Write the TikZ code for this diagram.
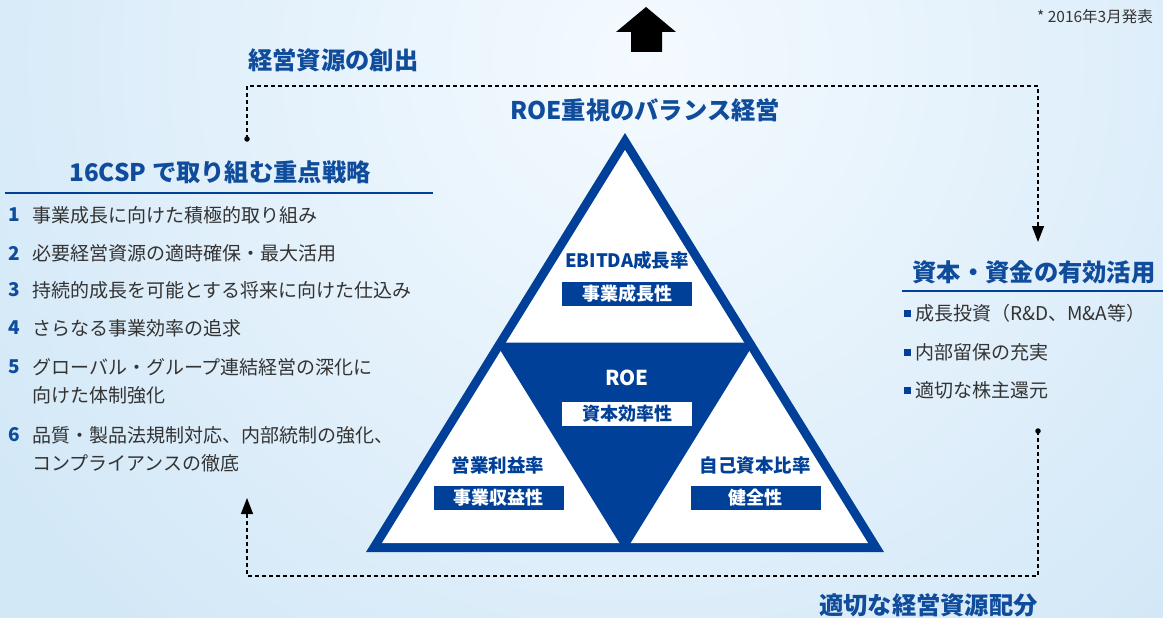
\documentclass[tikz,border=0pt]{standalone}
\usepackage{fontspec}
\setmainfont{Noto Sans CJK JP}
\usetikzlibrary{arrows.meta}
\definecolor{navy}{HTML}{004098}
\definecolor{titleblue}{HTML}{0F4C9C}
\definecolor{txt}{HTML}{333333}
\definecolor{bgA}{HTML}{F4FAFF}
\definecolor{bgB}{HTML}{D3E8F7}
\begin{document}
\begin{tikzpicture}[x=1pt,y=-1pt,
  title/.style={font=\bfseries\fontsize{24.3}{27}\selectfont, text=titleblue, inner sep=0pt},
  item/.style={font=\fontsize{19}{28}\selectfont, text=txt, anchor=west, inner sep=0pt, align=left},
  num/.style={font=\bfseries\fontsize{19}{28}\selectfont, text=titleblue, anchor=west, inner sep=0pt},
  flow/.style={draw=black, line width=1.3pt, dash pattern=on 4pt off 3pt},
  tip/.style={-{Triangle[width=12pt,length=16pt]}},
  lbl/.style={font=\bfseries\fontsize{18.5}{20}\selectfont, text=navy, inner sep=0pt},
  tagbox/.style={minimum width=130pt, minimum height=24pt, inner sep=0pt, font=\bfseries\fontsize{18}{20}\selectfont},
  dot/.style={circle, fill=black, inner sep=0pt, minimum size=5.5pt},
  bullet/.style={fill=navy, inner sep=0pt, minimum size=7pt}
]
\useasboundingbox (0,0) rectangle (1163,618);
\fill[bgB] (0,0) rectangle (1163,618);
\begin{scope}
\clip (0,0) rectangle (1163,618);
\shade[inner color=bgA, outer color=bgB] (640,60) circle (760);
\end{scope}

% big up arrow
\fill[black] (616,32) -- (646,7) -- (676,32) -- (662,32) -- (662,52) -- (631,52) -- (631,32) -- cycle;

% date
\node[font=\fontsize{15.5}{17}\selectfont, text=txt, anchor=east, inner sep=0pt] (date) at (1153,17) {* 2016年3月発表};

% titles
\node[title, anchor=west] (create) at (248,60) {経営資源の創出};
\node[title] (balance) at (645,110) {ROE重視のバランス経営};
\node[title] (csp) at (220,172) {16CSP で取り組む重点戦略};
\draw[navy, line width=1.2pt] (5,193) -- (433,193);
\node[title] (capital) at (1034,272) {資本・資金の有効活用};
\draw[navy, line width=1.2pt] (902,291) -- (1163,291);
\node[title, anchor=east] (alloc) at (1038,605) {適切な経営資源配分};

% left list
\node[num] (n1) at (8,215) {1};
\node[item] (t1) at (32,215) {事業成長に向けた積極的取り組み};
\node[num] (n2) at (8,253) {2};
\node[item] (t2) at (32,253) {必要経営資源の適時確保・最大活用};
\node[num] (n3) at (8,290) {3};
\node[item] (t3) at (32,290) {持続的成長を可能とする将来に向けた仕込み};
\node[num] (n4) at (8,328) {4};
\node[item] (t4) at (32,328) {さらなる事業効率の追求};
\node[num] (n5) at (8,367) {5};
\node[item] (t5) at (32,381) {グローバル・グループ連結経営の深化に\\向けた体制強化};
\node[num] (n6) at (8,435) {6};
\node[item] (t6) at (32,449) {品質・製品法規制対応、内部統制の強化、\\コンプライアンスの徹底};

% right list
\node[bullet] (b1) at (907.5,313) {};
\node[item] (r1) at (915,313) {成長投資（R\&D、M\&A等）};
\node[bullet] (b2) at (907.5,352) {};
\node[item] (r2) at (915,352) {内部留保の充実};
\node[bullet] (b3) at (907.5,390) {};
\node[item] (r3) at (915,390) {適切な株主還元};

% triangle
\fill[navy] (625,133) -- (366,552) -- (884,552) -- cycle;
\fill[white] (625,150) -- (382,543) -- (868,543) -- cycle;
\fill[navy] (495.5,342.5) -- (754.5,342.5) -- (625,552) -- cycle;

\node[lbl] (ebitda) at (627,260) {EBITDA成長率};
\node[tagbox, fill=navy, text=white] (growth) at (627,294) {事業成長性};
\node[font=\bfseries\fontsize{20.5}{23}\selectfont, text=white, inner sep=0pt] (roe) at (627,378) {ROE};
\node[tagbox, fill=white, text=navy] (eff) at (627,413.5) {資本効率性};
\node[lbl] (opm) at (498,465) {営業利益率};
\node[tagbox, fill=navy, text=white] (prof) at (498.5,498) {事業収益性};
\node[lbl] (eqr) at (755,465) {自己資本比率};
\node[tagbox, fill=navy, text=white] (sound) at (755.5,498) {健全性};

% loop connectors
\node[dot] (d1) at (247,139) {};
\coordinate (topline) at (640,86);
\coordinate (e1) at (1038,242);
\draw[flow, tip] (d1.center) |- (topline) -| (e1);
\node[dot] (d2) at (1038,431) {};
\coordinate (botline) at (640,576);
\coordinate (e2) at (247,498);
\draw[flow, tip] (d2.center) |- (botline) -| (e2);
\end{tikzpicture}
\end{document}
